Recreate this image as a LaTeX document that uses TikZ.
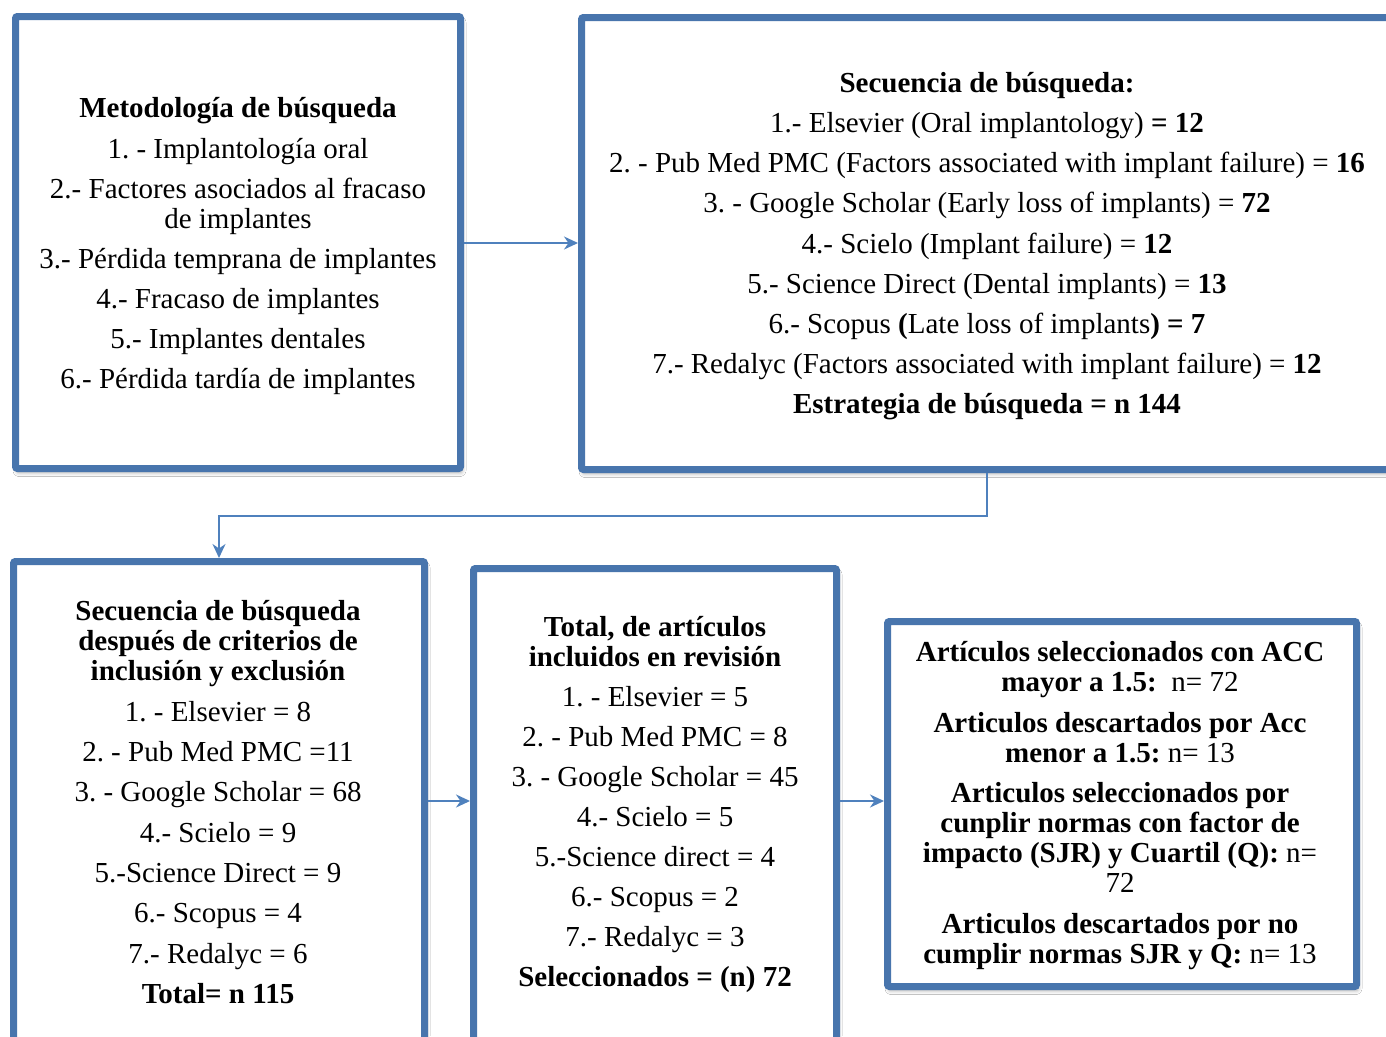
\documentclass[tikz,border=0pt]{standalone}
\usepackage{fontspec}
\setmainfont{Liberation Serif}
\usetikzlibrary{arrows.meta,shadows.blur}
\definecolor{boxblue}{RGB}{72,117,173}
\definecolor{linkblue}{RGB}{79,129,189}
\newcommand{\fsz}{\fontsize{29}{30}\selectfont\lineskiplimit=-60pt\frenchspacing}
\newcommand{\tl}{\rule{0pt}{27pt}}
\frenchspacing
\begin{document}
\begin{tikzpicture}[x=1pt,y=-1pt,
 panel/.style={draw=boxblue, line width=7pt, fill=white, rounded corners=2pt,
   blur shadow={shadow xshift=1.5pt, shadow yshift=-4pt, shadow blur radius=4pt, shadow opacity=35},
   inner sep=0pt},
 txt/.style={inner sep=0pt, align=center, font=\fsz, anchor=north},
 link/.style={draw=linkblue, line width=2pt, -{Stealth[length=14pt,width=13pt,inset=4.5pt]}}]
\useasboundingbox (0,0) rectangle (1386,1036);
\fill[white] (0,0) rectangle (1386,1036);

% panels
\node[panel, minimum width=445pt, minimum height=452pt] (b1) at (238,242.5) {};
\node[panel, minimum width=810.5pt, minimum height=452pt] (b2) at (986.75,243.5) {};
\node[panel, minimum width=411pt, minimum height=483.5pt] (b3) at (219,803.25) {};
\node[panel, minimum width=363pt, minimum height=476.5pt] (b4) at (655,806.75) {};
\node[panel, minimum width=469pt, minimum height=365pt] (b5) at (1122,804) {};

% texts
\node[txt] (t1) at (238,90) {\tl\textbf{Metodología de búsqueda}\\[11pt]
1. - Implantología oral\\[10pt]
2.- Factores asociados al fracaso\\
de implantes\\[10pt]
3.- Pérdida temprana de implantes\\[10pt]
4.- Fracaso de implantes\\[10pt]
5.- Implantes dentales\\[10pt]
6.- Pérdida tardía de implantes};

\node[txt] (t2) at (987,65) {\tl\textbf{Secuencia de búsqueda:}\\[10.2pt]
1.- Elsevier (Oral implantology) \textbf{= 12}\\[10.2pt]
2. - Pub Med PMC (Factors associated with implant failure) = \textbf{16}\\[10.2pt]
3. - Google Scholar (Early loss of implants) = \textbf{72}\\[10.2pt]
4.- Scielo (Implant failure) = \textbf{12}\\[10.2pt]
5.- Science Direct (Dental implants) = \textbf{13}\\[10.2pt]
6.- Scopus \textbf{(}Late loss of implants\textbf{) = 7}\\[10.2pt]
7.- Redalyc (Factors associated with implant failure) = \textbf{12}\\[10.2pt]
\textbf{Estrategia de búsqueda = n 144}};

\node[txt] (t3) at (218,593) {\tl\textbf{Secuencia de búsqueda}\\
\textbf{después de criterios de}\\
\textbf{inclusión y exclusión}\\[11pt]
1. - Elsevier = 8\\[10.3pt]
2. - Pub Med PMC =11\\[10.3pt]
3. - Google Scholar = 68\\[10.3pt]
4.- Scielo = 9\\[10.3pt]
5.-Science Direct = 9\\[10.3pt]
6.- Scopus = 4\\[10.3pt]
7.- Redalyc = 6\\[10.3pt]
\textbf{Total= n 115}};

\node[txt] (t4) at (655,609) {\tl\textbf{Total, de artículos}\\
\textbf{incluidos en revisión}\\[10pt]
1. - Elsevier = 5\\[10.1pt]
2. - Pub Med PMC = 8\\[10.1pt]
3. - Google Scholar = 45\\[10.1pt]
4.- Scielo = 5\\[10.1pt]
5.-Science direct = 4\\[10.1pt]
6.- Scopus = 2\\[10.1pt]
7.- Redalyc = 3\\[10.1pt]
\textbf{Seleccionados = (n) 72}};

\node[txt] (t5) at (1120,634) {\tl\textbf{Artículos seleccionados con ACC}\\
\textbf{mayor a 1.5:}\ \ n= 72\\[11pt]
\textbf{Articulos descartados por Acc}\\
\textbf{menor a 1.5:} n= 13\\[10pt]
\textbf{Articulos seleccionados por}\\
\textbf{cunplir normas con factor de}\\
\textbf{impacto (SJR) y Cuartil (Q):} n=\\
72\\[11pt]
\textbf{Articulos descartados por no}\\
\textbf{cumplir normas SJR y Q:} n= 13};

% connectors
\coordinate (r1) at (0,243);
\coordinate (r2) at (0,801);
\coordinate (elbow) at (600,516);
\draw[link] (b1.east |- r1) -- (b2.west |- r1);
\draw[link] (b2.south) |- (elbow) -| (b3.north);
\draw[link] (b3.east |- r2) -- (b4.west |- r2);
\draw[link] (b4.east |- r2) -- (b5.west |- r2);
\end{tikzpicture}
\end{document}
